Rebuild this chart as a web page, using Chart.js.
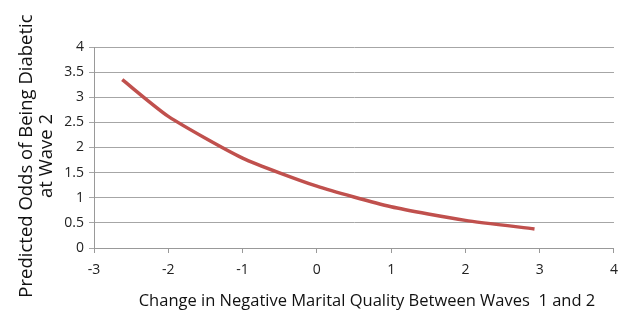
<!DOCTYPE html>
<html>
<head>
<meta charset="utf-8">
<script src="https://cdn.jsdelivr.net/npm/chart.js@4/dist/chart.umd.min.js"></script>
<style>
  html, body { margin: 0; padding: 0; background: #fff; }
  #wrap { width: 627px; height: 314px; }
</style>
</head>
<body>
<div id="wrap"><canvas id="chart" width="627" height="314"></canvas></div>
<script>
// values
const changeX = [-2.62, -2, -1, 0, 1, 2, 2.93]
const oddsY = [3.35, 2.62, 1.79, 1.23, 0.82, 0.55, 0.38]
const xTitle = 'Change in Negative Marital Quality Between Waves  1 and 2'
const yTitle = ['Predicted Odds of Being Diabetic', 'at Wave 2']

const points = changeX.map((x, i) => ({ x: x, y: oddsY[i] }))
const fontName = '"Open Sans", "Noto Sans", sans-serif'

// axis titles drawn by hand so they sit where the original has them
const axisTitles = {
  id: 'axisTitles',
  afterDraw: (chart) => {
    const ctx = chart.ctx
    const area = chart.chartArea
    ctx.save()
    ctx.fillStyle = '#111'
    ctx.textAlign = 'center'
    ctx.textBaseline = 'middle'
    ctx.font = '16.5px ' + fontName
    ctx.fillText(xTitle, area.left + (area.right - area.left) / 2 + 13, 301)
    ctx.translate(37, 156)
    ctx.rotate(-Math.PI / 2)
    ctx.font = '18.5px ' + fontName
    ctx.fillText(yTitle[0], 0, -10)
    ctx.fillText(yTitle[1], 0, 10)
    ctx.restore()
  }
}

new Chart(document.getElementById('chart'), {
  type: 'scatter',
  data: {
    datasets: [{
      data: points,
      showLine: true,
      borderColor: '#c0504d',
      borderWidth: 3.5,
      pointRadius: 0,
      tension: 0.2,
      fill: false
    }]
  },
  options: {
    responsive: false,
    animation: false,
    layout: { padding: { top: 47, right: 5, left: 0, bottom: 0 } },
    plugins: { legend: { display: false }, tooltip: { enabled: false } },
    scales: {
      x: {
        type: 'linear',
        min: -3, max: 4,
        ticks: { stepSize: 1, color: '#222', font: { family: fontName, size: 14 }, padding: 9 },
        grid: { drawOnChartArea: false, drawTicks: true, tickLength: 5, color: '#999' },
        border: { color: '#999', width: 1 },
        afterFit: (s) => { s.height = 66 }
      },
      y: {
        min: 0, max: 4,
        ticks: {
          stepSize: 0.5, color: '#222', font: { family: fontName, size: 14 }, padding: 5,
          callback: (v) => String(v)
        },
        grid: { color: '#a6a6a6', tickLength: 5 },
        border: { color: '#999', width: 1 },
        afterFit: (s) => { s.width = 94 }
      }
    }
  },
  plugins: [axisTitles]
})
</script>
</body>
</html>
